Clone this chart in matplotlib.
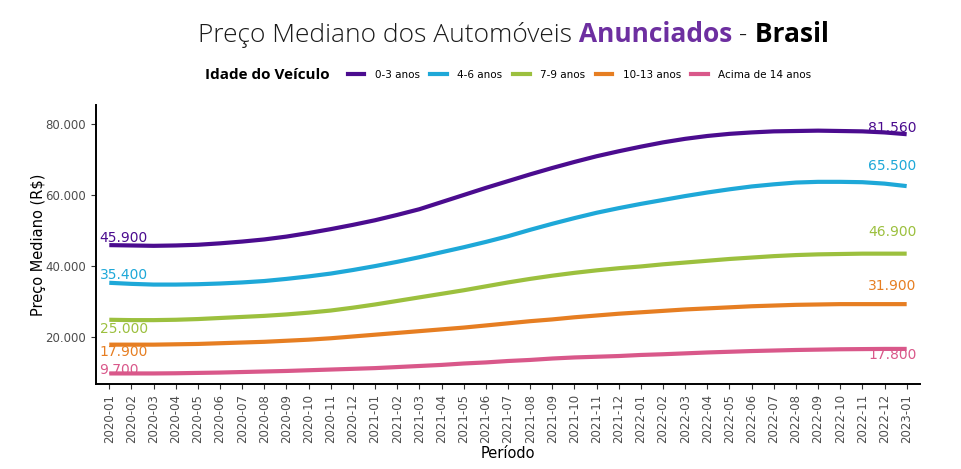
import matplotlib
matplotlib.use("Agg")
import matplotlib.pyplot as plt
from matplotlib.lines import Line2D

# periodo mensal 2020-01 .. 2023-01
periodos = ["%d-%02d" % (2020 + (i // 12), i % 12 + 1) for i in range(37)]

# curvas suavizadas, em R$
idade_0_3 = [45900, 45800, 45700, 45800, 46000, 46400, 46900, 47500, 48300, 49300,
             50400, 51600, 52900, 54400, 56000, 58000, 60000, 62000, 63900, 65800,
             67600, 69300, 70900, 72300, 73600, 74800, 75800, 76600, 77200, 77600,
             77900, 78000, 78100, 78000, 77900, 77600, 77100]
idade_4_6 = [35300, 35000, 34800, 34800, 34900, 35100, 35400, 35800, 36400, 37100,
             37900, 38900, 40000, 41200, 42500, 43900, 45300, 46800, 48400, 50200,
             51900, 53500, 55000, 56300, 57500, 58600, 59700, 60700, 61600, 62400,
             63000, 63500, 63700, 63700, 63600, 63200, 62500]
idade_7_9 = [24900, 24800, 24800, 24900, 25100, 25400, 25700, 26000, 26400, 26900,
             27500, 28300, 29200, 30200, 31200, 32200, 33200, 34300, 35400, 36400,
             37300, 38100, 38800, 39400, 39900, 40500, 41000, 41500, 42000, 42400,
             42800, 43100, 43300, 43400, 43500, 43500, 43500]
idade_10_13 = [17900, 17900, 17900, 18000, 18100, 18300, 18500, 18700, 19000, 19300,
               19700, 20200, 20700, 21200, 21700, 22200, 22700, 23300, 23900, 24500,
               25000, 25600, 26100, 26600, 27000, 27400, 27800, 28100, 28400, 28700,
               28900, 29100, 29200, 29300, 29300, 29300, 29300]
idade_14 = [9800, 9800, 9800, 9850, 9950, 10050, 10200, 10350, 10500, 10700,
            10900, 11100, 11300, 11600, 11900, 12200, 12600, 12900, 13300, 13600,
            14000, 14300, 14500, 14700, 15000, 15200, 15450, 15700, 15900, 16100,
            16250, 16400, 16500, 16600, 16650, 16700, 16700]

nomes = ["0-3 anos", "4-6 anos", "7-9 anos", "10-13 anos", "Acima de 14 anos"]
cores = ["#4b0c8f", "#1ea8d8", "#9cc03e", "#e67e22", "#d9588a"]
series = [idade_0_3, idade_4_6, idade_7_9, idade_10_13, idade_14]

# valores reais do primeiro e do ultimo mes (rotulos)
valor_inicio = [45900, 35400, 25000, 17900, 9700]
valor_fim = [81560, 65500, 46900, 31900, 17800]
va_inicio = ["bottom", "bottom", "top", "top", "bottom"]
va_fim = ["top", "bottom", "bottom", "bottom", "top"]
dy_inicio = [0, 0, -2, 0, -2]
dy_fim = [-2, 1.5, 1.5, 1.5, -2]


def fmt(v):
    return "{:,.0f}".format(v).replace(",", ".")


fig = plt.figure(figsize=(9.62, 4.69), dpi=100)
ax = fig.add_axes([0.0998, 0.181, 0.8565, 0.595])

x = list(range(len(periodos)))
for s, c in zip(series, cores):
    ax.plot(x, s, color=c, lw=3, solid_capstyle="butt")

for i, c in enumerate(cores):
    ax.annotate(fmt(valor_inicio[i]), (0, valor_inicio[i]), xytext=(-7, dy_inicio[i]),
                textcoords="offset points", ha="left", va=va_inicio[i],
                color=c, fontsize=10)
    ax.annotate(fmt(valor_fim[i]), (36, valor_fim[i]), xytext=(7, dy_fim[i]),
                textcoords="offset points", ha="right", va=va_fim[i],
                color=c, fontsize=10)

ax.set_xlim(-0.6, 36.6)
ax.set_ylim(6800, 85300)
ax.set_xticks(x)
ax.set_xticklabels(periodos, rotation=90)
ax.set_yticks([20000, 40000, 60000, 80000])
ax.set_yticklabels([fmt(v) for v in [20000, 40000, 60000, 80000]])
ax.tick_params(axis="both", colors="#333333", labelcolor="#4d4d4d",
               labelsize=8.5, length=3.5, width=0.8)
for sp in ["top", "right"]:
    ax.spines[sp].set_visible(False)
for sp in ["left", "bottom"]:
    ax.spines[sp].set_linewidth(1.4)
    ax.spines[sp].set_color("black")
ax.set_xlabel("Período", fontsize=10.5, labelpad=2)
ax.set_ylabel("Preço Mediano (R$)", fontsize=10.5, labelpad=0)

# titulo com partes coloridas
fs_tit = 19
pecas = [("Preço Mediano dos Automóveis", "light", "#1a1a1a"),
         (" Anunciados", "bold", "#6d2fa0"),
         (" -", "light", "#1a1a1a"),
         (" Brasil", "bold", "black")]
prev = None
for txt, w, c in pecas:
    if prev is None:
        prev = fig.text(0.206, 1 - 42 / 469, txt, fontsize=fs_tit, family="Open Sans",
                        weight=w, color=c, va="baseline")
    else:
        prev = ax.annotate(txt, xy=(1, 0), xycoords=prev, va="bottom",
                           fontsize=fs_tit, family="Open Sans", weight=w, color=c,
                           annotation_clip=False)

# legenda
fig.text(0.213, 1 - 75 / 469, "Idade do Veículo", fontsize=11, weight="bold",
         family="Open Sans", va="center")
handles = [Line2D([], [], color=c, lw=3) for c in cores]
fig.legend(handles, nomes, loc="center left", bbox_to_anchor=(0.3615, 1 - 75 / 469),
           ncol=5, frameon=False, fontsize=7.5, handlelength=1.6,
           handletextpad=1.0, columnspacing=1.0, borderaxespad=0, borderpad=0)

fig.savefig("out.png", dpi=100)
